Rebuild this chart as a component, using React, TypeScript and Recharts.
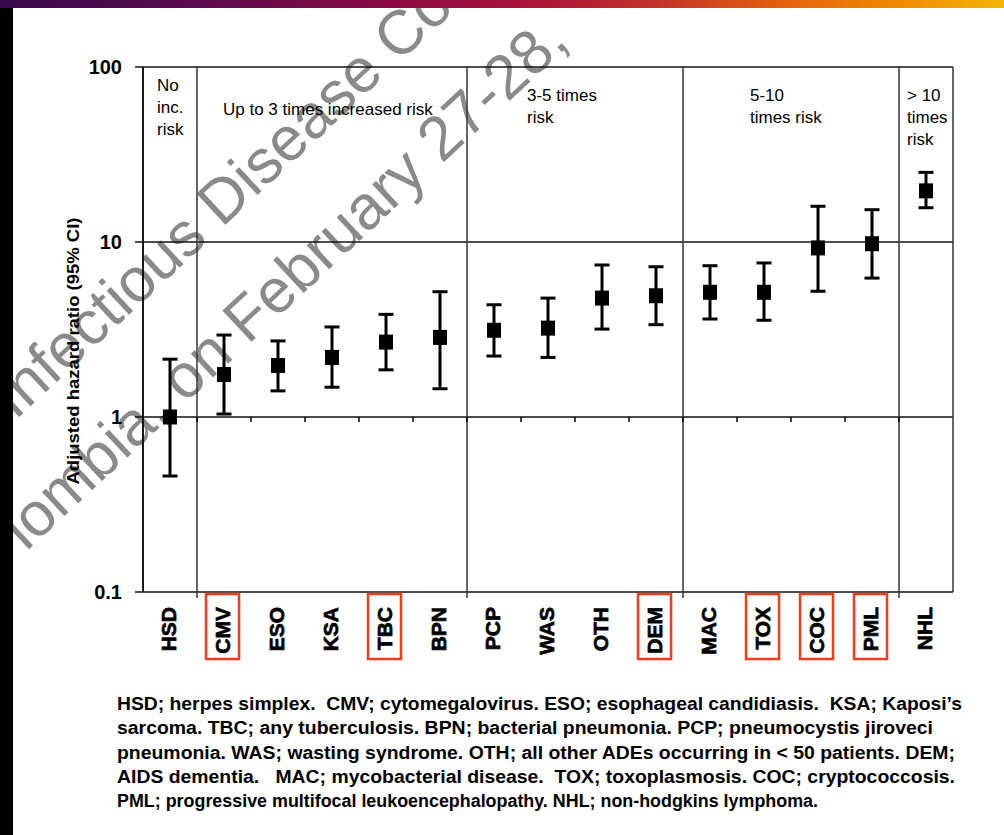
import React from 'react';
import {
  ComposedChart,
  Line,
  ErrorBar,
  XAxis,
  YAxis,
  CartesianGrid,
  ReferenceLine,
} from 'recharts';

const FONT = '"Liberation Sans", Arial, Helvetica, sans-serif';

// values (adjusted hazard ratio with 95% CI)
const categories = ['HSD', 'CMV', 'ESO', 'KSA', 'TBC', 'BPN', 'PCP', 'WAS', 'OTH', 'DEM', 'MAC', 'TOX', 'COC', 'PML', 'NHL'];
const hazardRatio = [1.0, 1.75, 1.97, 2.19, 2.68, 2.85, 3.13, 3.22, 4.78, 4.93, 5.16, 5.16, 9.25, 9.78, 19.6];
const ciLow = [0.46, 1.04, 1.41, 1.48, 1.86, 1.45, 2.23, 2.19, 3.18, 3.37, 3.63, 3.57, 5.23, 6.22, 15.7];
const ciHigh = [2.14, 2.94, 2.72, 3.27, 3.86, 5.2, 4.38, 4.78, 7.39, 7.22, 7.32, 7.59, 16.0, 15.3, 25.0];
const highlighted = ['CMV', 'TBC', 'DEM', 'TOX', 'COC', 'PML'];
const yTicks = [0.1, 1, 10, 100];

const groupStarts = ['HSD', 'CMV', 'PCP', 'MAC', 'NHL'];
const groupLabels = [
  ['No', 'inc.', 'risk'],
  ['Up to 3 times increased risk'],
  ['3-5 times', 'risk'],
  ['5-10', 'times risk'],
  ['> 10', 'times', 'risk'],
];

const captionLines = [
  'HSD; herpes simplex.  CMV; cytomegalovirus. ESO; esophageal candidiasis.  KSA; Kaposi\u2019s',
  'sarcoma. TBC; any tuberculosis. BPN; bacterial pneumonia. PCP; pneumocystis jiroveci',
  'pneumonia. WAS; wasting syndrome. OTH; all other ADEs occurring in < 50 patients. DEM;',
  'AIDS dementia.   MAC; mycobacterial disease.  TOX; toxoplasmosis. COC; cryptococcosis.',
  'PML; progressive multifocal leukoencephalopathy. NHL; non-hodgkins lymphoma.',
];

const watermarkLines = ['Infectious Disease Co', 'lombia, on February 27-28,'];

const chartData = categories.map((cat, i) => ({
  cat,
  hr: hazardRatio[i],
  err: [hazardRatio[i] - ciLow[i], ciHigh[i] - hazardRatio[i]],
}));

// layout
const headerPos = [
  { dx: 14, dy: 24 },
  { dx: 26, dy: 48 },
  { dx: 60, dy: 34 },
  { dx: 67, dy: 34 },
  { dx: 8, dy: 34 },
];
const captionWidths = [845, 816, 838, 838, 701];
const TICK_END = 0.936; // short ticks under the 1-line
const SEP_END = 0.0924; // separators poke below the 0.1-line

function GroupHeader({ viewBox, lines, dx, dy }: any) {
  if (!viewBox) return null;
  const x = viewBox.x + dx;
  return (
    <text x={x} y={viewBox.y + dy} fontSize={17} fontFamily={FONT} fill="#000">
      {lines.map((l: string, i: number) => (
        <tspan key={i} x={x} dy={i === 0 ? 0 : 22} style={{ whiteSpace: 'pre' }}>
          {l}
        </tspan>
      ))}
    </text>
  );
}

function CategoryTick({ x, y, payload }: any) {
  const hi = highlighted.includes(payload.value);
  return (
    <g>
      {hi && (
        <rect x={x - 18} y={y + 2} width={33} height={65} fill="none" stroke="#f23c1c" strokeWidth={2.5} />
      )}
      <text
        transform={`translate(${x + 6},${y + 15}) rotate(-90)`}
        textAnchor="end"
        fontSize={21}
        fontWeight={700}
        fontFamily={FONT}
        fill="#000"
        stroke="#000"
        strokeWidth={0.7}
      >
        {payload.value}
      </text>
    </g>
  );
}

function SquareDot({ cx, cy, index }: any) {
  if (cx == null || cy == null) return <g key={index} />;
  return <rect key={index} x={cx - 7} y={cy - 7.5} width={14} height={15} fill="#000" />;
}

export default function App() {
  return (
    <div style={{ position: 'relative', width: 1004, height: 835, background: '#fff', overflow: 'hidden' }}>
      <style>{'body{margin:0}'}</style>

      <svg width={1004} height={835} style={{ position: 'absolute', left: 0, top: 0 }}>
        <g fontFamily={FONT} fontSize={62} fill="#8a8a8a">
          <text transform="translate(15,421) rotate(-43)">{watermarkLines[0]}</text>
          <text transform="translate(26,552) rotate(-43)">{watermarkLines[1]}</text>
        </g>
      </svg>

      <div style={{ position: 'absolute', left: 0, top: 0 }}>
        <ComposedChart
          width={1004}
          height={835}
          data={chartData}
          margin={{ top: 67, right: 51, bottom: 183, left: 83 }}
        >
          <CartesianGrid vertical={false} stroke="#111" strokeWidth={1.4} />
          <XAxis
            dataKey="cat"
            type="category"
            scale="band"
            interval={0}
            axisLine={false}
            tickLine={false}
            tickSize={0}
            tickMargin={0}
            height={60}
            tick={<CategoryTick />}
          />
          <YAxis
            scale="log"
            domain={[0.1, 100]}
            ticks={yTicks}
            allowDataOverflow
            width={60}
            tickSize={8}
            tickMargin={13}
            tickFormatter={(v: number) => String(v)}
            axisLine={{ stroke: '#000', strokeWidth: 1.5 }}
            tickLine={{ stroke: '#000', strokeWidth: 1.4 }}
            tick={{ fill: '#000', fontSize: 20, fontWeight: 700, fontFamily: FONT }}
          />
          {groupStarts.map((c, i) => (
            <ReferenceLine
              key={'g' + c}
              x={c}
              position="start"
              ifOverflow="visible"
              stroke="#333"
              strokeWidth={1.5}
              label={<GroupHeader lines={groupLabels[i]} dx={headerPos[i].dx} dy={headerPos[i].dy} />}
            />
          ))}
          <ReferenceLine x="NHL" position="end" ifOverflow="visible" stroke="#333" strokeWidth={1.5} />
          {categories.slice(1).map((c) => (
            <ReferenceLine
              key={'t' + c}
              segment={[{ x: c, y: 1 }, { x: c, y: TICK_END }]}
              position="start"
              ifOverflow="visible"
              stroke="#000"
              strokeWidth={1.5}
            />
          ))}
          {groupStarts.slice(1).map((c) => (
            <ReferenceLine
              key={'s' + c}
              segment={[{ x: c, y: 0.1 }, { x: c, y: SEP_END }]}
              position="start"
              ifOverflow="visible"
              stroke="#333"
              strokeWidth={1.5}
            />
          ))}
          <Line
            dataKey="hr"
            stroke="none"
            dot={SquareDot}
            activeDot={false}
            isAnimationActive={false}
          >
            <ErrorBar dataKey="err" direction="y" width={7.5} strokeWidth={3} stroke="#000" />
          </Line>
        </ComposedChart>
      </div>

      <svg width={1004} height={835} style={{ position: 'absolute', left: 0, top: 0, pointerEvents: 'none' }}>
        <text
          transform="translate(79,351) rotate(-90)"
          textAnchor="middle"
          fontSize={16}
          fontWeight={700}
          fontFamily={FONT}
          fill="#000"
          textLength={267}
          lengthAdjust="spacingAndGlyphs"
        >
          Adjusted hazard ratio (95% CI)
        </text>
        {captionLines.map((line, i) => (
          <text
            key={i}
            x={117}
            y={710 + i * 24.25}
            fontSize={18}
            fontWeight={700}
            fontFamily={FONT}
            fill="#000"
            textLength={captionWidths[i]}
            lengthAdjust="spacingAndGlyphs"
            style={{ whiteSpace: 'pre' }}
          >
            {line}
          </text>
        ))}
      </svg>

      <div
        style={{
          position: 'absolute',
          left: 0,
          top: 0,
          width: 1004,
          height: 8,
          background:
            'linear-gradient(to right, #3a0b4e 0%, #5a0a4c 20%, #8e0a44 40%, #a8123a 52%, #c4302a 65%, #e4600f 78%, #f08c00 90%, #f4b400 100%)',
        }}
      />
      <div style={{ position: 'absolute', left: 0, top: 8, width: 13, height: 827, background: '#000' }} />
    </div>
  );
}
